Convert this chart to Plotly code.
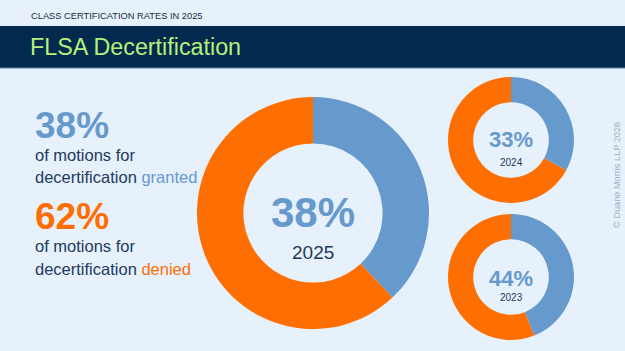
import plotly.graph_objects as go

# ---- data ----
years = ["2025", "2024", "2023"]
granted = [38, 33, 44]
denied = [62, 67, 56]
slice_labels = ["granted", "denied"]

W, H = 625, 351
BG = "#E6F1FC"
NAVY = "#022A4E"
GREEN = "#B6F07C"
BLUE = "#6699CC"
ORANGE = "#FF6E00"
DARK = "#1E3A5C"
FONT = "Liberation Sans, Arial, sans-serif"


def px(x):
    return x / W


def py(y):
    return (H - y) / H


# donut placements (center x, center y, radius) in pixels
placements = [(313, 213, 116), (511, 140, 63), (511, 277, 63)]

fig = go.Figure()
for i, (yr, g, d) in enumerate(zip(years, granted, denied)):
    cx, cy, r = placements[i]
    fig.add_trace(go.Pie(
        labels=slice_labels,
        values=[g, d],
        hole=0.6,
        sort=False,
        direction="clockwise",
        rotation=0,
        marker=dict(colors=[BLUE, ORANGE], line=dict(width=0)),
        textinfo="none",
        hoverinfo="label+percent",
        showlegend=False,
        domain=dict(x=[px(cx - r), px(cx + r)], y=[py(cy + r), py(cy - r)]),
    ))

shapes = [
    dict(type="rect", xref="paper", yref="paper", x0=0, x1=1, y0=py(68), y1=py(26),
         fillcolor=NAVY, line=dict(width=0), layer="below"),
    dict(type="line", xref="paper", yref="paper", x0=0, x1=1, y0=py(68), y1=py(68),
         line=dict(color="#5A7FA0", width=1), layer="below"),
]

ann = []


def text(x, y, s, size, color, xanchor="left", bold=False, angle=0):
    ann.append(dict(
        x=px(x), y=py(y), xref="paper", yref="paper", text=("<b>%s</b>" % s) if bold else s,
        showarrow=False, xanchor=xanchor, yanchor="middle", textangle=angle,
        font=dict(family=FONT, size=size, color=color),
    ))


text(29, 16, "CLASS CERTIFICATION RATES IN 2025", 9.3, "#1A2A3A")
text(28, 47, "FLSA Decertification", 23.3, GREEN)

text(33, 126, "%d%%" % granted[0], 37, BLUE, bold=True)
text(33, 155, "of motions for", 16.5, DARK)
text(33, 177, "decertification <span style='color:%s'>%s</span>" % (BLUE, slice_labels[0]), 16.5, DARK)
text(33, 216, "%d%%" % denied[0], 37, ORANGE, bold=True)
text(33, 246, "of motions for", 16.5, DARK)
text(33, 269, "decertification <span style='color:%s'>%s</span>" % (ORANGE, slice_labels[1]), 16.5, DARK)

# donut centre labels
text(313, 212, "%d%%" % granted[0], 42, BLUE, xanchor="center", bold=True)
text(313, 252, years[0], 19, DARK, xanchor="center")
text(511, 140, "%d%%" % granted[1], 22, BLUE, xanchor="center", bold=True)
text(511, 162, years[1], 10, DARK, xanchor="center")
text(511, 278, "%d%%" % granted[2], 22, BLUE, xanchor="center", bold=True)
text(511, 297, years[2], 10, DARK, xanchor="center")

text(617, 175, "© Duane Morris LLP 2026", 9.2, "#9FB2C6", xanchor="center", angle=-90)

fig.update_layout(
    width=W, height=H,
    margin=dict(l=0, r=0, t=0, b=0),
    paper_bgcolor=BG, plot_bgcolor=BG,
    shapes=shapes, annotations=ann,
)

fig.write_html("out.html")
